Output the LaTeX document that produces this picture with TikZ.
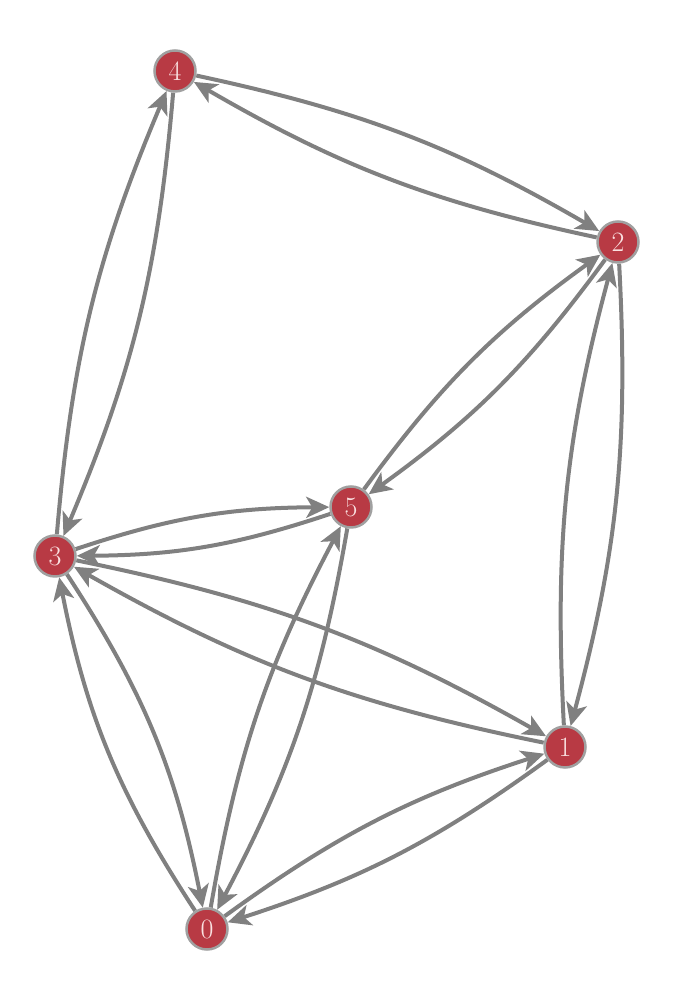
\documentclass[tikz,border=0pt]{standalone}
\usepackage{fontspec}
\setmainfont{Latin Modern Roman}
\usetikzlibrary{arrows.meta}
\definecolor{nodefill}{RGB}{184,58,68}
\definecolor{nodeline}{RGB}{160,160,160}
\definecolor{edgecol}{RGB}{128,128,128}
\definecolor{labcol}{RGB}{250,225,225}
\pgfdeclarelayer{edges}
\pgfsetlayers{edges,main}
\begin{document}
\begin{tikzpicture}[x=1pt,y=1pt,
  vtx/.style={circle,fill=nodefill,draw=nodeline,line width=2.5pt,minimum size=41pt,inner sep=0pt,text=labcol,font=\fontsize{28}{28}\selectfont},
  arc/.style={draw=edgecol,line width=4pt,-{Stealth[length=23pt,width=21pt,inset=6pt]},bend left=9}]
\useasboundingbox (0,0) rectangle (674,1000);
\node[vtx] (n4) at (175,929) {4};
\node[vtx] (n2) at (618,758) {2};
\node[vtx] (n5) at (351,493) {5};
\node[vtx] (n3) at (55,444) {3};
\node[vtx] (n1) at (565,253) {1};
\node[vtx] (n0) at (207,71) {0};
\begin{pgfonlayer}{edges}
\draw[arc] (n4) to (n2);
\draw[arc] (n2) to (n4);
\draw[arc] (n4) to (n3);
\draw[arc] (n3) to (n4);
\draw[arc] (n2) to (n5);
\draw[arc] (n5) to (n2);
\draw[arc] (n2) to (n1);
\draw[arc] (n1) to (n2);
\draw[arc] (n3) to (n5);
\draw[arc] (n5) to (n3);
\draw[arc] (n3) to (n1);
\draw[arc] (n1) to (n3);
\draw[arc,bend left=11] (n3) to (n0);
\draw[arc,bend left=11] (n0) to (n3);
\draw[arc] (n5) to (n0);
\draw[arc] (n0) to (n5);
\draw[arc] (n0) to (n1);
\draw[arc] (n1) to (n0);
\end{pgfonlayer}
\end{tikzpicture}
\end{document}
